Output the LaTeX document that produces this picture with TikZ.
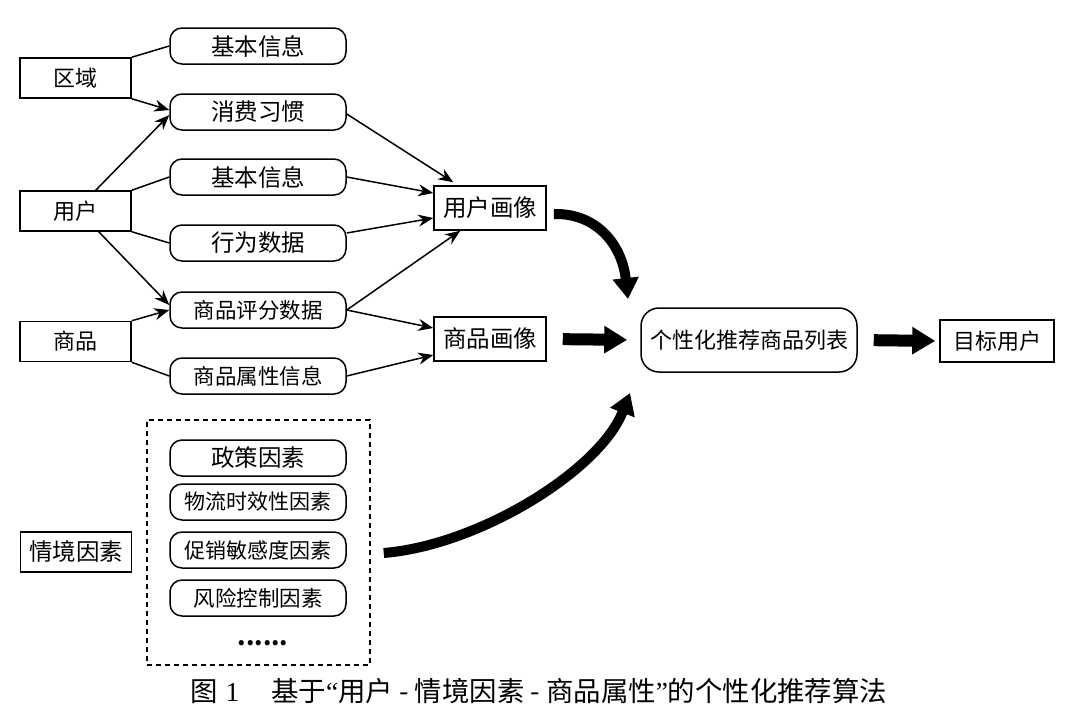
\documentclass[tikz,border=0pt]{standalone}
\usepackage{fontspec}
\setmainfont{Noto Sans CJK SC}
\newfontfamily\latinfont{Liberation Serif}
\usetikzlibrary{arrows.meta}
\begin{document}
\begin{tikzpicture}[x=1pt,y=-1pt,
 font=\fontsize{23.5}{26}\selectfont,
 small/.style={font=\fontsize{22}{26}\selectfont},
 smaller/.style={font=\fontsize{21.5}{26}\selectfont},
 rect/.style={draw,line width=1.5pt,minimum width=111pt,minimum height=40pt,inner sep=0pt},
 rbox/.style={draw,line width=1.5pt,rounded corners=12pt,minimum width=176pt,minimum height=36pt,inner sep=0pt},
 pbox/.style={rect,minimum width=112pt,minimum height=44pt},
 thinline/.style={line width=1.5pt},
 arr/.style={thinline,-{Stealth[length=15pt,width=12pt]}},
 fat/.style={line width=12pt,-{Triangle[length=23pt,width=26pt]}},
 curvy/.style={line width=10pt,-{Triangle[length=21pt,width=25pt]}},
]
\useasboundingbox (0,0) rectangle (1079,715);
% left boxes
\node[rect,small] (qy) at (75.5,78) {区域};
\node[rect,small] (yh) at (75.5,211) {用户};
\node[rect,small] (sp) at (75.5,341.5) {商品};
\node[rect] (qj) at (76,552) {情境因素};
% middle rounded boxes
\node[rbox] (jb1) at (258,46) {基本信息};
\node[rbox] (xf) at (258,112) {消费习惯};
\node[rbox] (jb2) at (258,177) {基本信息};
\node[rbox] (xw) at (258,243) {行为数据};
\node[rbox,smaller] (pf) at (258,310) {商品评分数据};
\node[rbox,smaller] (sx) at (258,376) {商品属性信息};
% portraits
\node[pbox] (yhx) at (490,208) {用户画像};
\node[pbox] (spx) at (490,339) {商品画像};
\node[draw,line width=1.5pt,rounded corners=18pt,minimum width=216pt,minimum height=64pt,inner sep=0pt,small] (lb) at (749,340) {个性化推荐商品列表};
\node[pbox,minimum width=114pt,minimum height=42pt,small] (mb) at (997,341) {目标用户};
% context box
\node[draw,line width=1.8pt,dash pattern=on 5pt off 4pt,minimum width=223pt,minimum height=245pt] (ctx) at (258.5,542.5) {};
\node[rbox] (zc) at (258,458) {政策因素};
\node[rbox,font=\fontsize{21}{24}\selectfont] (wl) at (258,502) {物流时效性因素};
\node[rbox,font=\fontsize{21}{24}\selectfont] (cx) at (258,550) {促销敏感度因素};
\node[rbox,smaller] (fx) at (258,598) {风险控制因素};
\node[font=\fontsize{24}{26}\selectfont\bfseries] (dots) at (263,643) {......};
% caption
\node[anchor=west,inner sep=0pt,font=\fontsize{27.4}{30}\selectfont] (cap) at (190,691)
  {图\hspace{8pt}{\latinfont 1}\hspace{32pt}基于{\latinfont “}用户 - 情境因素 - 商品属性{\latinfont ”}的个性化推荐算法};
% free ends of the curved arrows
\coordinate (t1) at (628,299);
\coordinate (t2) at (630,393);
% thin connectors
\draw[thinline] (qy.north east) -- (jb1.west);
\draw[arr] (qy.south east) -- ([yshift=2pt]xf.west);
\draw[arr] ([xshift=-36pt]yh.north east) -- ([yshift=-3pt]xf.west);
\draw[thinline] (yh.north east) -- (jb2.west);
\draw[thinline] (yh.south east) -- (xw.west);
\draw[arr] ([xshift=-33pt]yh.south east) -- ([yshift=5pt]pf.west);
\draw[arr] (sp.north east) -- (pf.west);
\draw[thinline] (sp.south east) -- (sx.west);
\draw[arr] ([yshift=-2pt]xf.east) -- ([xshift=20pt,yshift=3pt]yhx.north west);
\draw[arr] (jb2.east) -- ([yshift=15pt]yhx.west);
\draw[arr] ([yshift=10pt]xw.east) -- ([yshift=-10pt]yhx.west);
\draw[arr] (pf.east) -- ([xshift=27pt]yhx.south west);
\draw[arr] (pf.east) -- ([yshift=11pt]spx.west);
\draw[arr] (sx.east) -- ([yshift=-16pt]spx.west);
% thick connectors
\draw[fat,shorten <=16pt,shorten >=13pt] (spx.east) -- (lb.west);
\draw[fat,shorten <=16pt,shorten >=4pt] (lb.east) -- (mb.west);
\draw[curvy] ([xshift=7pt,yshift=-6pt]yhx.east) .. controls (597,213) and (622,245) .. (t1);
\draw[curvy] ([xshift=37pt,yshift=-3pt]cx.east) .. controls (480,545) and (600,470) .. (t2);
\end{tikzpicture}
\end{document}
